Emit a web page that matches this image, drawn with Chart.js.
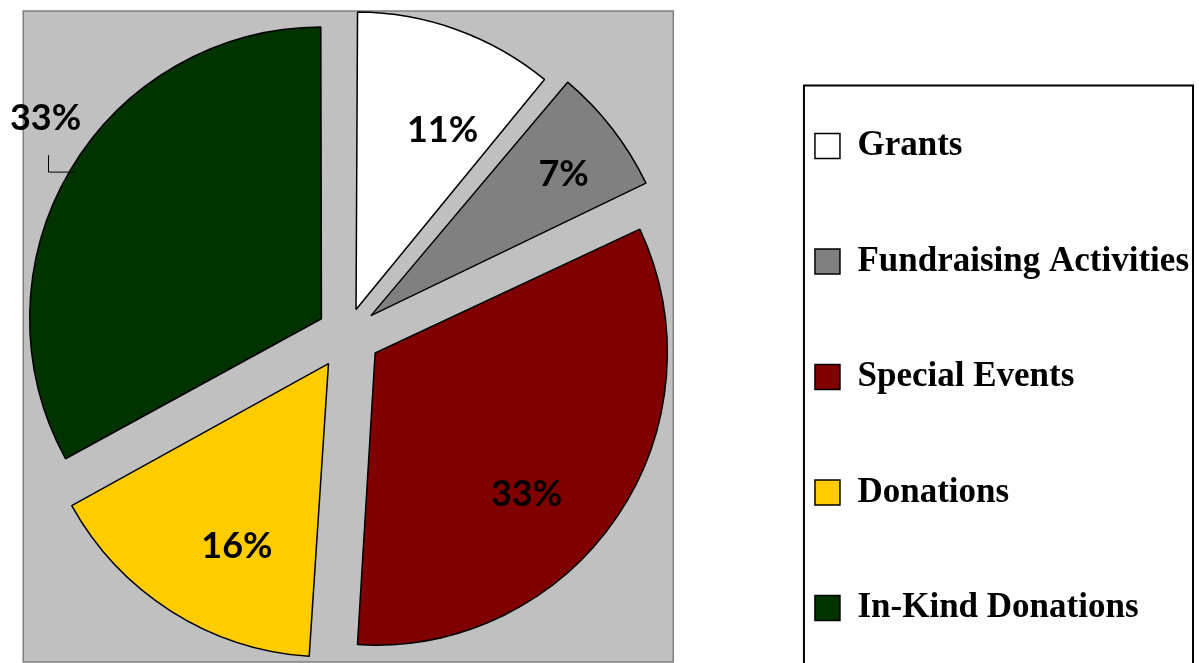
<!DOCTYPE html>
<html>
<head>
<meta charset="utf-8">
<script src="https://cdn.jsdelivr.net/npm/chart.js@4.4.1/dist/chart.umd.min.js"></script>
<style>
  html, body { margin: 0; padding: 0; background: #fff; overflow: hidden; }
  #wrap { position: relative; width: 1199px; height: 663px; overflow: hidden; }
  #chart { position: absolute; left: -50px; top: -60px; }
</style>
</head>
<body>
<div id="wrap"><canvas id="chart" width="1249" height="800"></canvas></div>
<script>
const categories = ["Grants", "Fundraising Activities", "Special Events", "Donations", "In-Kind Donations"];
const shares = [11, 7, 33, 16, 33];
const sliceColors = ["#FFFFFF", "#808080", "#800000", "#FFCC00", "#003300"];

// where each percentage sits: depth = fraction of radius, turn = degrees off the mid angle
// null = outside the slice with a leader line
const labelPlace = [
  { depth: 0.69, turn: 6 },
  { depth: 0.83, turn: 1.5 },
  { depth: 0.72, turn: 8.9 },
  { depth: 0.71, turn: -5.8 },
  null
];

const plotBackground = {
  id: "plotBackground",
  beforeDatasetsDraw(chart) {
    const arc = chart.getDatasetMeta(0).data[0];
    if (!arc) return;
    const ctx = chart.ctx;
    ctx.save();
    ctx.fillStyle = "#C0C0C0";
    ctx.strokeStyle = "#808080";
    ctx.lineWidth = 1.5;
    ctx.fillRect(arc.x - 324, arc.y - 323, 650, 651);
    ctx.strokeRect(arc.x - 324, arc.y - 323, 650, 651);
    ctx.restore();
  }
};

const pctLabels = {
  id: "pctLabels",
  afterDatasetsDraw(chart) {
    const ctx = chart.ctx;
    const meta = chart.getDatasetMeta(0);
    const data = chart.data.datasets[0].data;
    const total = data.reduce((a, b) => a + b, 0);
    ctx.save();
    ctx.font = "bold 36px Lato";
    ctx.fillStyle = "#000";
    ctx.textAlign = "center";
    ctx.textBaseline = "middle";
    meta.data.forEach((arc, i) => {
      const mid = (arc.startAngle + arc.endAngle) / 2;
      const shift = (arc.options.offset || 0) / 4;
      const cx = arc.x + Math.cos(mid) * shift;
      const cy = arc.y + Math.sin(mid) * shift;
      const text = Math.round(data[i] / total * 100) + "%";
      const place = labelPlace[i];
      if (place) {
        const r = arc.outerRadius * place.depth;
        const a = mid + place.turn * Math.PI / 180;
        ctx.fillText(text, cx + Math.cos(a) * r, cy + Math.sin(a) * r);
      } else {
        const ax = cx + Math.cos(mid) * arc.outerRadius;
        const ay = cy + Math.sin(mid) * arc.outerRadius;
        ctx.strokeStyle = "#000";
        ctx.lineWidth = 1;
        ctx.beginPath();
        ctx.moveTo(ax + 2, ay);
        ctx.lineTo(ax - 25, ay);
        ctx.lineTo(ax - 25, ay - 17);
        ctx.stroke();
        ctx.fillText(text, ax - 28, ay - 54);
      }
    });
    ctx.restore();
  }
};

const legendFrame = {
  id: "legendFrame",
  afterDraw(chart) {
    const boxes = chart.legend && chart.legend.legendHitBoxes;
    if (!boxes || !boxes.length) return;
    const first = boxes[0];
    const last = boxes[boxes.length - 1];
    const ctx = chart.ctx;
    ctx.save();
    ctx.strokeStyle = "#000";
    ctx.lineWidth = 2;
    const left = first.left - 11;
    const top = first.top - 43;
    const right = chart.legend.right - 6;
    const bottom = last.top + last.height + 45;
    ctx.strokeRect(left, top, right - left, bottom - top);
    ctx.restore();
  }
};

new Chart(document.getElementById("chart"), {
  type: "pie",
  data: {
    labels: categories,
    datasets: [{
      data: shares,
      backgroundColor: sliceColors,
      borderColor: "#000",
      borderWidth: 1.5,
      offset: [104, 120, 135, 140, 120],
      hoverOffset: 0,
      clip: false
    }]
  },
  options: {
    responsive: false,
    animation: false,
    radius: 288,
    layout: { padding: { left: 10, right: 0, top: 0, bottom: 12 } },
    plugins: {
      tooltip: { enabled: false },
      legend: {
        position: "right",
        title: { display: true, text: " ", padding: { top: 71.6, bottom: 0 } },
        labels: {
          boxWidth: 25,
          boxHeight: 25,
          padding: 80.5,
          color: "#000",
          font: { family: "'Liberation Serif'", size: 35, weight: "bold" }
        }
      }
    }
  },
  plugins: [plotBackground, pctLabels, legendFrame]
});
</script>
</body>
</html>
